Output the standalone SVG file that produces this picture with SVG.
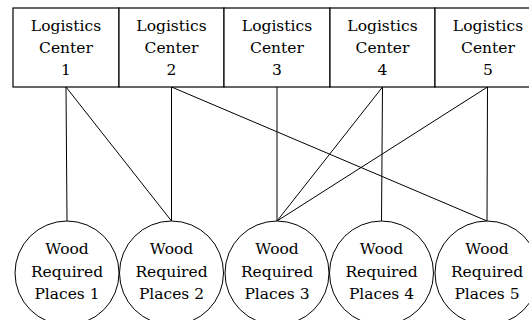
<svg xmlns="http://www.w3.org/2000/svg" width="529" height="320" viewBox="0 0 529 320">
<style>
.box{fill:#fff;stroke:#000;stroke-width:1.2}
.cir{fill:#fff;stroke:#000;stroke-width:1}
.t{font-family:'DejaVu Serif',serif;font-size:15.5px;fill:#000;text-anchor:middle}
.ln{stroke:#000;stroke-width:1;fill:none}
</style>
<rect width="529" height="320" fill="#fff"/>
<g id="connectors">
<line class="ln" x1="66" y1="87" x2="67" y2="221"/>
<line class="ln" x1="66" y1="87" x2="171.5" y2="221"/>
<line class="ln" x1="171.5" y1="87" x2="171.5" y2="221"/>
<line class="ln" x1="171.5" y1="87" x2="487" y2="221"/>
<line class="ln" x1="277" y1="87" x2="277" y2="221"/>
<line class="ln" x1="382.5" y1="87" x2="277" y2="221"/>
<line class="ln" x1="382.5" y1="87" x2="381.5" y2="221"/>
<line class="ln" x1="487.5" y1="87" x2="277" y2="221"/>
<line class="ln" x1="487.5" y1="87" x2="487" y2="221"/>
</g>
<g id="lc1"><rect class="box" x="13" y="8" width="106" height="79"/><text class="t" x="66" y="31">Logistics</text><text class="t" x="66" y="53">Center</text><text class="t" x="66" y="75">1</text></g>
<g id="lc2"><rect class="box" x="119" y="8" width="105" height="79"/><text class="t" x="171.5" y="31">Logistics</text><text class="t" x="171.5" y="53">Center</text><text class="t" x="171.5" y="75">2</text></g>
<g id="lc3"><rect class="box" x="224" y="8" width="106" height="79"/><text class="t" x="277" y="31">Logistics</text><text class="t" x="277" y="53">Center</text><text class="t" x="277" y="75">3</text></g>
<g id="lc4"><rect class="box" x="330" y="8" width="105" height="79"/><text class="t" x="382.5" y="31">Logistics</text><text class="t" x="382.5" y="53">Center</text><text class="t" x="382.5" y="75">4</text></g>
<g id="lc5"><rect class="box" x="435" y="8" width="106" height="79"/><text class="t" x="488" y="31">Logistics</text><text class="t" x="488" y="53">Center</text><text class="t" x="488" y="75">5</text></g>
<g id="wp1"><circle class="cir" cx="67" cy="273" r="52"/><text class="t" x="67" y="254">Wood</text><text class="t" x="67" y="277">Required</text><text class="t" x="67" y="299">Places 1</text></g>
<g id="wp2"><circle class="cir" cx="171.5" cy="273" r="52"/><text class="t" x="171.5" y="254">Wood</text><text class="t" x="171.5" y="277">Required</text><text class="t" x="171.5" y="299">Places 2</text></g>
<g id="wp3"><circle class="cir" cx="277" cy="273" r="52"/><text class="t" x="277" y="254">Wood</text><text class="t" x="277" y="277">Required</text><text class="t" x="277" y="299">Places 3</text></g>
<g id="wp4"><circle class="cir" cx="381.5" cy="273" r="52"/><text class="t" x="381.5" y="254">Wood</text><text class="t" x="381.5" y="277">Required</text><text class="t" x="381.5" y="299">Places 4</text></g>
<g id="wp5"><circle class="cir" cx="487" cy="273" r="52"/><text class="t" x="487" y="254">Wood</text><text class="t" x="487" y="277">Required</text><text class="t" x="487" y="299">Places 5</text></g>
</svg>
